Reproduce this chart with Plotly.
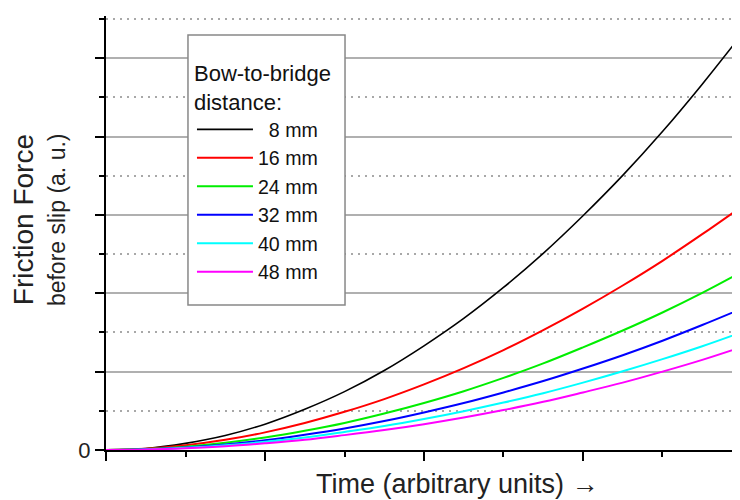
import plotly.graph_objects as go

# Time (arbitrary units)
time = [0, 0.5, 1, 1.5, 2, 2.5, 3, 3.5, 4, 4.5, 5, 5.5, 6, 6.5, 7, 7.5, 8]

# Friction force before slip (a. u.) for each bow-to-bridge distance
f_8mm = [0, 0.04, 0.17, 0.37, 0.66, 1.04, 1.49, 2.03, 2.66, 3.36, 4.15, 5.02, 5.98, 7.01, 8.13, 9.34, 10.62]
f_16mm = [0, 0.033, 0.12, 0.26, 0.45, 0.69, 0.975, 1.30, 1.675, 2.09, 2.55, 3.06, 3.61, 4.20, 4.83, 5.51, 6.22]
f_24mm = [0, 0.023, 0.085, 0.185, 0.32, 0.49, 0.69, 0.93, 1.20, 1.50, 1.84, 2.21, 2.62, 3.05, 3.51, 4.01, 4.55]
f_32mm = [0, 0.017, 0.065, 0.14, 0.25, 0.39, 0.55, 0.74, 0.96, 1.20, 1.47, 1.76, 2.08, 2.42, 2.79, 3.19, 3.61]
f_40mm = [0, 0.015, 0.055, 0.12, 0.21, 0.32, 0.46, 0.61, 0.79, 0.99, 1.21, 1.45, 1.72, 2.01, 2.32, 2.65, 3.01]
f_48mm = [0, 0.011, 0.045, 0.095, 0.17, 0.26, 0.38, 0.51, 0.66, 0.83, 1.02, 1.23, 1.47, 1.72, 2.00, 2.30, 2.63]

series_names = ["\u00a0\u00a08 mm", "16 mm", "24 mm", "32 mm", "40 mm", "48 mm"]
series_values = [f_8mm, f_16mm, f_24mm, f_32mm, f_40mm, f_48mm]
series_colors = ["#000000", "#ff0000", "#00ee00", "#0000ff", "#00ffff", "#ff00ff"]
series_widths = [1.6, 2, 2, 2, 2, 2]

y_major_ticks = [0, 2, 4, 6, 8, 10]
y_tick_labels = ["0", "", "", "", "", ""]
x_major_ticks = [0, 2, 4, 6, 8]

FONT = "Arial, Liberation Sans, sans-serif"

fig = go.Figure()
for name, vals, col, w in zip(series_names, series_values, series_colors, series_widths):
    fig.add_trace(go.Scatter(
        x=time, y=vals, mode="lines", name=name,
        line=dict(color=col, width=w, shape="spline", smoothing=1),
    ))

fig.update_layout(
    width=732, height=492,
    margin=dict(l=98, r=0, t=8, b=50),
    paper_bgcolor="white", plot_bgcolor="white",
    font=dict(family=FONT, color="#222222"),
    showlegend=True,
    legend=dict(
        x=0.1356, y=0.915, xanchor="left", yanchor="top",
        bgcolor="rgba(0,0,0,0)", borderwidth=0,
        font=dict(family=FONT, size=19.6, color="#111111"),
        title=dict(text="Bow-to-bridge<br>distance:", font=dict(family=FONT, size=22, color="#111111")),
        itemwidth=56, tracegroupgap=0,
    ),
    xaxis=dict(
        range=[0, 7.975], showgrid=False, zeroline=False,
        showline=True, linecolor="black", linewidth=2,
        tickmode="array", tickvals=x_major_ticks, ticktext=[""] * len(x_major_ticks),
        ticks="outside", ticklen=9, tickwidth=2, tickcolor="black",
        minor=dict(dtick=1, tick0=0, ticks="outside", ticklen=5, tickwidth=2, tickcolor="black", showgrid=False),
    ),
    yaxis=dict(
        range=[0, 11.08], zeroline=False,
        showline=True, linecolor="black", linewidth=2,
        tickmode="array", tickvals=y_major_ticks, ticktext=y_tick_labels,
        tickfont=dict(family=FONT, size=22, color="#222222"),
        ticks="outside", ticklen=9, tickwidth=2, tickcolor="black",
        showgrid=True, gridcolor="#b0b0b0", gridwidth=2,
        minor=dict(dtick=1, tick0=1, ticks="outside", ticklen=5, tickwidth=2, tickcolor="black",
                   showgrid=True, gridcolor="#a8a8a8", gridwidth=1.5, griddash="2px,5px"),
    ),
)

# legend frame
fig.add_shape(type="rect", xref="paper", yref="paper",
              x0=0.1293, x1=0.377, y0=0.334, y1=0.956,
              line=dict(color="#888888", width=1.5), fillcolor="white", layer="above")

fig.add_annotation(text="Friction Force", xref="paper", yref="paper",
                   x=-0.129, y=0.53, xanchor="center", yanchor="middle",
                   textangle=-90, showarrow=False,
                   font=dict(family=FONT, size=28, color="#222222"))
fig.add_annotation(text="before slip (a. u.)", xref="paper", yref="paper",
                   x=-0.0773, y=0.532, xanchor="center", yanchor="middle",
                   textangle=-90, showarrow=False,
                   font=dict(family=FONT, size=23, color="#222222"))
fig.add_annotation(text="Time (arbitrary units) \u2192", xref="paper", yref="paper",
                   x=0.554, y=-0.079, xanchor="center", yanchor="middle",
                   showarrow=False,
                   font=dict(family=FONT, size=27, color="#222222"))

fig.write_html("out.html")
